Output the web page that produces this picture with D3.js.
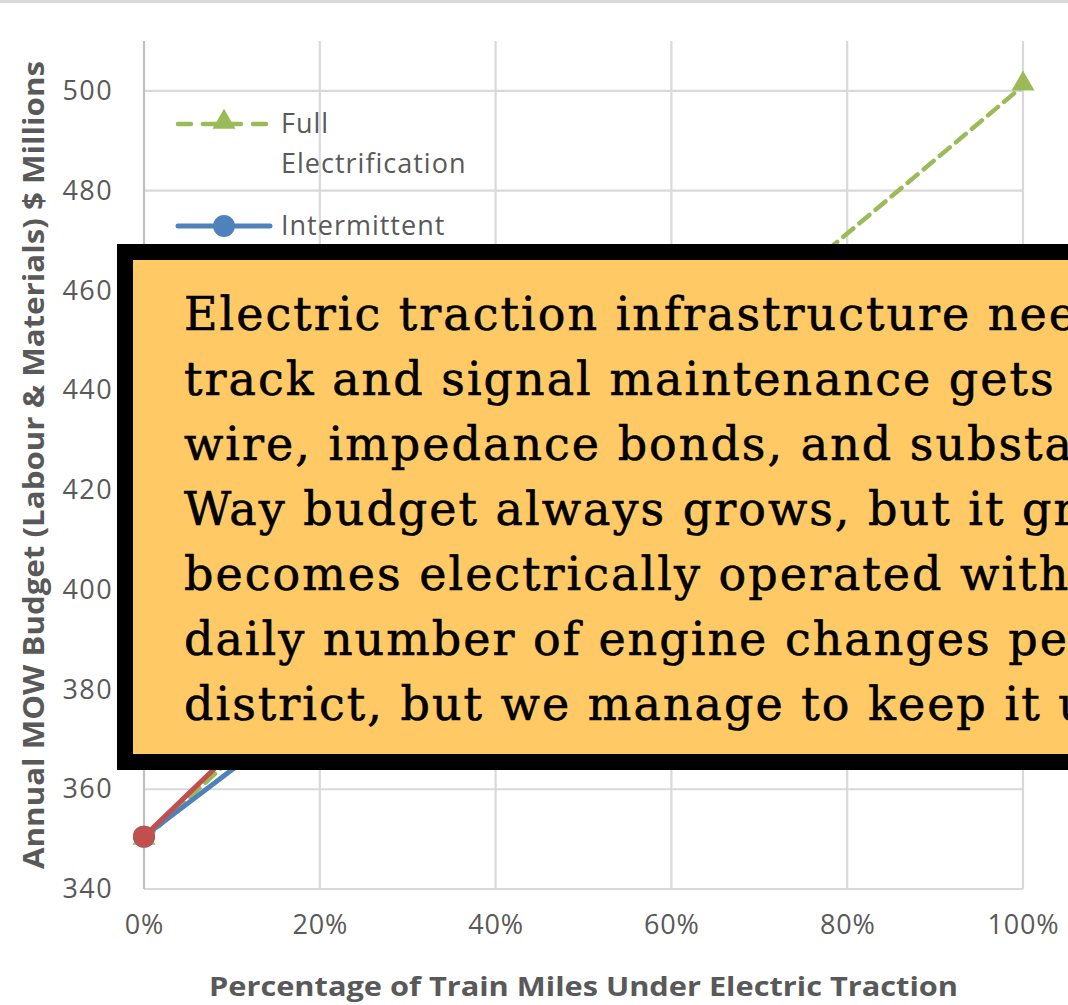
<!DOCTYPE html>
<html>
<head>
<meta charset="utf-8">
<script src="https://cdn.jsdelivr.net/npm/d3@7"></script>
<style>
  html, body { margin: 0; padding: 0; background: #fff; overflow: hidden; }
  svg { display: block; }
</style>
</head>
<body>
<svg id="chart" width="1068" height="1005"></svg>
<script>
// Share of train miles under electric traction (x positions of the points)
const electricShare = [0, 0.25, 0.5, 0.75, 1];

// Annual MOW budget, $ millions, for each scenario
const fullElectrification = [349.8, 391, 428, 464, 501];
const intermittent        = [350.5, 384, 410, 428, 441];
const partialElectrification = [350.5, 393, 424, 444, 457];

const seriesNames = ["Full Electrification", "Intermittent", "Partial Electrification"];

const xTicks = [0, 0.2, 0.4, 0.6, 0.8, 1];
const yTicks = [340, 360, 380, 400, 420, 440, 460, 480, 500];

const noteLines = [
  "Electric traction infrastructure needs",
  "track and signal maintenance gets",
  "wire, impedance bonds, and substations",
  "Way budget always grows, but it grows",
  "becomes electrically operated with",
  "daily number of engine changes peaks",
  "district, but we manage to keep it up"
];

const W = 1068, H = 1005;
const svg = d3.select("#chart");

const x = d3.scaleLinear().domain([0, 1]).range([144, 1023]);
const y = d3.scaleLinear().domain([340, 510]).range([889, 41]);

const textGray = "#595959";
const gridGray = "#d9d9d9";
const uiFont = "'Open Sans', 'Noto Sans', sans-serif";

// thin frame line along the top edge
svg.append("rect").attr("x", 0).attr("y", 0).attr("width", W).attr("height", 3)
  .attr("fill", "#d9d9d9");

// gridlines
const grid = svg.append("g");
grid.selectAll("line.h").data(yTicks).join("line")
  .attr("x1", x(0)).attr("x2", x(1))
  .attr("y1", d => y(d)).attr("y2", d => y(d))
  .attr("stroke", gridGray).attr("stroke-width", 2.2);
grid.selectAll("line.v").data(xTicks).join("line")
  .attr("x1", d => x(d)).attr("x2", d => x(d))
  .attr("y1", y(510)).attr("y2", y(340))
  .attr("stroke", (d, i) => i === 0 ? "#bfbfbf" : gridGray)
  .attr("stroke-width", 2.2);

// axes (labels only, no tick marks)
const yAxis = d3.axisLeft(y).tickValues(yTicks).tickSize(0).tickPadding(31);
svg.append("g").attr("transform", `translate(${x(0)},0)`).call(yAxis)
  .call(g => g.select(".domain").remove())
  .call(g => g.selectAll("text")
    .attr("font-family", uiFont).attr("font-size", 27).attr("letter-spacing", 1.4)
    .attr("fill", textGray));

const xAxis = d3.axisBottom(x).tickValues(xTicks).tickSize(0).tickPadding(26)
  .tickFormat(d3.format(".0%"));
svg.append("g").attr("transform", `translate(0,${y(340)})`).call(xAxis)
  .call(g => g.select(".domain").remove())
  .call(g => g.selectAll("text")
    .attr("font-family", uiFont).attr("font-size", 27).attr("letter-spacing", 0.8)
    .attr("fill", textGray));

// axis titles
svg.append("text")
  .attr("x", (x(0) + x(1)) / 2).attr("y", 996)
  .attr("text-anchor", "middle")
  .attr("font-family", uiFont).attr("font-weight", "bold").attr("font-size", 27)
  .attr("fill", textGray)
  .attr("textLength", 749).attr("lengthAdjust", "spacingAndGlyphs")
  .text("Percentage of Train Miles Under Electric Traction");

svg.append("text")
  .attr("transform", `translate(44,${(y(510) + y(340)) / 2}) rotate(-90)`)
  .attr("text-anchor", "middle")
  .attr("font-family", uiFont).attr("font-weight", "bold").attr("font-size", 28)
  .attr("fill", textGray)
  .attr("textLength", 808).attr("lengthAdjust", "spacingAndGlyphs")
  .text("Annual MOW Budget (Labour & Materials) $ Millions");

// series
const series = [
  { name: seriesNames[0], values: fullElectrification, color: "#9bbb59", dash: "13,8", marker: "triangle" },
  { name: seriesNames[1], values: intermittent, color: "#4f81bd", dash: null, marker: "circle" },
  { name: seriesNames[2], values: partialElectrification, color: "#c0504d", dash: null, marker: "circle" }
];

const line = d3.line().x(d => x(d[0])).y(d => y(d[1]));
const tri = d3.symbol().type(d3.symbolTriangle).size(230);
const dot = d3.symbol().type(d3.symbolCircle).size(380);

series.forEach(s => {
  const pts = electricShare.map((v, i) => [v, s.values[i]]);
  const g = svg.append("g");
  g.append("path").datum(pts)
    .attr("d", line).attr("fill", "none")
    .attr("stroke", s.color).attr("stroke-width", s.dash ? 4.5 : 5)
    .attr("stroke-dasharray", s.dash)
    .attr("stroke-linecap", s.dash ? "round" : "butt");
  g.selectAll("path.m").data(pts).join("path")
    .attr("class", "m")
    .attr("transform", d => `translate(${x(d[0])},${y(d[1]) - (s.marker === "triangle" ? 2 : 0)})`)
    .attr("d", s.marker === "triangle" ? tri : dot)
    .attr("fill", s.color);
});

// legend (the entries left visible above the note panel)
const legend = svg.append("g").attr("font-family", uiFont).attr("font-size", 27)
  .attr("letter-spacing", 1).attr("fill", textGray);
const legendRows = [
  { s: series[0], cy: 124, lines: ["Full", "Electrification"] },
  { s: series[1], cy: 226, lines: ["Intermittent"] }
];
legendRows.forEach(r => {
  legend.append("line")
    .attr("x1", 178).attr("x2", 270).attr("y1", r.cy).attr("y2", r.cy)
    .attr("stroke", r.s.color).attr("stroke-width", r.s.dash ? 4.5 : 5)
    .attr("stroke-dasharray", r.s.dash ? "13,12" : null)
    .attr("stroke-linecap", "round");
  legend.append("path")
    .attr("transform", `translate(224,${r.cy - (r.s.marker === "triangle" ? 2 : 0)})`)
    .attr("d", r.s.marker === "triangle" ? tri : dot)
    .attr("fill", r.s.color);
  r.lines.forEach((t, i) => {
    legend.append("text").attr("x", 281).attr("y", r.cy + 9 + i * 40).text(t);
  });
});

// note panel laid over the chart
const note = svg.append("g");
note.append("rect")
  .attr("x", 125).attr("y", 252).attr("width", 1000).attr("height", 510)
  .attr("fill", "#ffc966").attr("stroke", "#000").attr("stroke-width", 16);
note.selectAll("text").data(noteLines).join("text")
  .attr("x", 184).attr("y", (d, i) => 330 + i * 65)
  .attr("font-family", "'DejaVu Serif', serif")
  .attr("font-size", 46).attr("letter-spacing", 2)
  .attr("fill", "#000").attr("stroke", "#000").attr("stroke-width", 0.6)
  .text(d => d);
</script>
</body>
</html>
